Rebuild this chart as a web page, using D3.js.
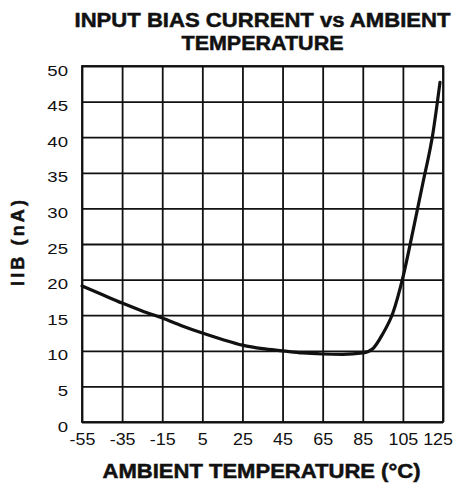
<!DOCTYPE html>
<html><head><meta charset="utf-8">
<script src="https://cdn.jsdelivr.net/npm/d3@7"></script>
<style>
body{margin:0;background:#fff}
svg{display:block}
text{font-family:"Liberation Sans",Arial,Helvetica,sans-serif;fill:#111}
</style>
</head><body>
<svg id="c" width="455" height="485"></svg>
<script>
// ---- data ----
const titleLines = ["INPUT BIAS CURRENT vs AMBIENT", "TEMPERATURE"];
const xTitle = "AMBIENT TEMPERATURE (°C)";
const yTitle = "IIB (nA)";
const xTicks = [-55, -35, -15, 5, 25, 45, 65, 85, 105, 125];
const yTicks = [0, 5, 10, 15, 20, 25, 30, 35, 40, 45, 50];
const temperature = [-55, -45, -35, -25, -15, -5, 5, 15, 25, 35, 45, 55, 65, 75, 85, 90, 95, 100, 105, 110, 115, 120, 123.5];
const biasCurrent = [19.1, 17.9, 16.7, 15.6, 14.6, 13.5, 12.5, 11.6, 10.8, 10.3, 10.0, 9.7, 9.55, 9.5, 9.7, 10.3, 12.4, 15.3, 20.3, 26.8, 33.6, 40.6, 47.7];

// ---- layout ----
const W = 455, H = 485;
const m = {left: 82, right: 12, top: 66, bottom: 63};
const iw = W - m.left - m.right, ih = H - m.top - m.bottom;

const svg = d3.select("#c");
const g = svg.append("g").attr("transform", `translate(${m.left},${m.top})`);

const x = d3.scaleLinear().domain([-55, 125]).range([0, iw]);
const y = d3.scaleLinear().domain([0, 50]).range([ih, 0]);

// grid
const gridStyle = sel => {
  sel.select(".domain").remove();
  sel.selectAll(".tick line").attr("stroke", "#111").attr("stroke-width", 1.8);
  sel.selectAll(".tick text").remove();
};
g.append("g").attr("transform", `translate(0,${ih})`)
  .call(d3.axisBottom(x).tickValues(xTicks).tickSize(-ih).tickFormat(""))
  .call(gridStyle);
g.append("g")
  .call(d3.axisLeft(y).tickValues(yTicks).tickSize(-iw).tickFormat(""))
  .call(gridStyle);
g.append("rect").attr("width", iw).attr("height", ih)
  .attr("fill", "none").attr("stroke", "#111").attr("stroke-width", 1.8);

// axes labels (plain hyphen minus as in the reference)
const fmt = d => String(d);
const xa = g.append("g").attr("transform", `translate(0,${ih})`)
  .call(d3.axisBottom(x).tickValues(xTicks).tickSize(0).tickFormat(fmt));
xa.select(".domain").remove();
xa.selectAll("text").attr("y", null).attr("dy", null)
  .attr("font-size", 16).attr("font-family", null)
  .attr("transform", "translate(0,23) scale(1.12,1)");
// keep the last label inside the picture
xa.selectAll(".tick").each(function() {
  const t = d3.select(this).select("text");
  const b = this.getBoundingClientRect();
  const over = b.right - (W - 2);
  if (over > 0) t.attr("transform", `translate(${-over},23) scale(1.12,1)`);
});

const ya = g.append("g")
  .call(d3.axisLeft(y).tickValues(yTicks).tickSize(0).tickFormat(fmt));
ya.select(".domain").remove();
ya.selectAll("text").attr("x", null).attr("dy", null)
  .attr("font-size", 15.5).attr("font-family", null)
  .attr("transform", "translate(-14,9) scale(1.2,1)");

// curve
const pts = temperature.map((t, i) => ({t, v: biasCurrent[i]}));
g.append("path").datum(pts)
  .attr("fill", "none").attr("stroke", "#111").attr("stroke-width", 3.2)
  .attr("stroke-linejoin", "round").attr("stroke-linecap", "round")
  .attr("d", d3.line().x(d => x(d.t)).y(d => y(d.v)).curve(d3.curveMonotoneX));

// titles
const cx = m.left + iw / 2;
const bold = sel => sel.attr("font-weight", "bold").attr("stroke", "#111").attr("stroke-width", 0.5);
svg.append("text").attr("x", cx).attr("y", 27).attr("text-anchor", "middle")
  .attr("font-size", 20).call(bold)
  .attr("textLength", 376).attr("lengthAdjust", "spacingAndGlyphs").text(titleLines[0]);
svg.append("text").attr("x", cx).attr("y", 50).attr("text-anchor", "middle")
  .attr("font-size", 20).call(bold)
  .attr("textLength", 162).attr("lengthAdjust", "spacingAndGlyphs").text(titleLines[1]);
svg.append("text").attr("x", cx - 1).attr("y", 478).attr("text-anchor", "middle")
  .attr("font-size", 20).call(bold)
  .attr("textLength", 318).attr("lengthAdjust", "spacingAndGlyphs").text(xTitle);
svg.append("text").attr("transform", "translate(24,243) rotate(-90)")
  .attr("text-anchor", "middle")
  .attr("font-size", 18).call(bold)
  .attr("textLength", 86).attr("lengthAdjust", "spacing").text(yTitle);
</script>
</body></html>
